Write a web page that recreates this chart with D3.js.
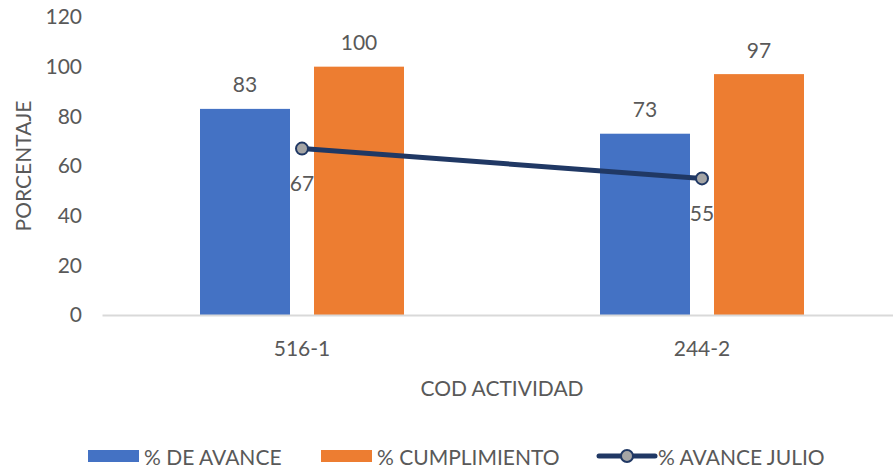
<!DOCTYPE html>
<html>
<head>
<meta charset="utf-8">
<script src="https://cdn.jsdelivr.net/npm/d3@7"></script>
<style>
  body { margin: 0; background: #fff; }
  svg text { font-family: Lato, "Liberation Sans", sans-serif; fill: #595959; }
</style>
</head>
<body>
<div id="chart"></div>
<script>
const WIDTH = 893;
const HEIGHT = 471;

// data
const categories = ["516-1", "244-2"];
const barSeries = ["% DE AVANCE", "% CUMPLIMIENTO"];
const avance = [83, 73];
const cumplimiento = [100, 97];
const avanceJulio = [67, 55];
const lineSeries = "% AVANCE JULIO";
const yTicks = [0, 20, 40, 60, 80, 100, 120];

const colors = { "% DE AVANCE": "#4472C4", "% CUMPLIMIENTO": "#ED7D31" };
const lineColor = "#203864";
const markerFill = "#A5A5A5";
const FS = 21;

const plot = { left: 102, right: 902, top: 17, bottom: 315 };

const svg = d3.select("#chart").append("svg").attr("width", WIDTH).attr("height", HEIGHT);

const x0 = d3.scaleBand().domain(categories).range([plot.left, plot.right]);
const x1 = d3.scaleBand().domain(barSeries).range([98, 302]).paddingInner(0.2105);
const y = d3.scaleLinear().domain([0, 120]).range([plot.bottom, plot.top]);

const barData = categories.map((c, i) => ({
    cat: c,
    values: [
        { key: barSeries[0], value: avance[i] },
        { key: barSeries[1], value: cumplimiento[i] }
    ]
}));

// y axis: labels only
const yAxis = svg.append("g")
    .attr("transform", "translate(" + (plot.left - 20) + ",0)")
    .call(d3.axisLeft(y).tickValues(yTicks).tickSize(0).tickPadding(0));
yAxis.select(".domain").remove();
yAxis.selectAll("text").attr("font-size", FS).style("font-family", null);

// bars
const groups = svg.append("g").selectAll("g")
    .data(barData)
    .join("g")
    .attr("transform", d => "translate(" + x0(d.cat) + ",0)");

groups.selectAll("rect")
    .data(d => d.values)
    .join("rect")
    .attr("x", d => x1(d.key))
    .attr("y", d => y(d.value))
    .attr("width", x1.bandwidth())
    .attr("height", d => y(0) - y(d.value))
    .attr("fill", d => colors[d.key]);

groups.selectAll("text.lbl")
    .data(d => d.values)
    .join("text")
    .attr("class", "lbl")
    .attr("x", d => x1(d.key) + x1.bandwidth() / 2)
    .attr("y", d => y(d.value) - 25)
    .attr("text-anchor", "middle")
    .attr("dominant-baseline", "central")
    .attr("font-size", FS)
    .text(d => d.value);

// x axis line
const xAxis = svg.append("g")
    .attr("transform", "translate(0," + plot.bottom + ")")
    .call(d3.axisBottom(x0).tickSize(0).tickPadding(0));
xAxis.select(".domain").attr("stroke", "#D9D9D9").attr("stroke-width", 2);
xAxis.selectAll("text")
    .attr("y", 32)
    .attr("dy", null)
    .attr("dominant-baseline", "central")
    .attr("font-size", FS)
    .style("font-family", null);

// line series
const pts = categories.map((c, i) => ({ x: x0(c) + x0.bandwidth() / 2, v: avanceJulio[i] }));
const line = d3.line().x(d => d.x).y(d => y(d.v));

svg.append("path")
    .datum(pts)
    .attr("d", line)
    .attr("fill", "none")
    .attr("stroke", lineColor)
    .attr("stroke-width", 5)
    .attr("stroke-linecap", "round");

svg.append("g").selectAll("circle")
    .data(pts)
    .join("circle")
    .attr("cx", d => d.x)
    .attr("cy", d => y(d.v))
    .attr("r", 6)
    .attr("fill", markerFill)
    .attr("stroke", lineColor)
    .attr("stroke-width", 2);

svg.append("g").selectAll("text")
    .data(pts)
    .join("text")
    .attr("x", d => d.x)
    .attr("y", d => y(d.v) + 34)
    .attr("text-anchor", "middle")
    .attr("dominant-baseline", "central")
    .attr("font-size", FS)
    .text(d => d.v);

// axis titles
svg.append("text")
    .attr("x", (plot.left + plot.right) / 2)
    .attr("y", 387)
    .attr("text-anchor", "middle")
    .attr("dominant-baseline", "central")
    .attr("font-size", FS)
    .text("COD ACTIVIDAD");

svg.append("text")
    .attr("transform", "translate(22," + (plot.top + plot.bottom) / 2 + ") rotate(-90)")
    .attr("text-anchor", "middle")
    .attr("dominant-baseline", "central")
    .attr("font-size", FS)
    .text("PORCENTAJE");

// legend
const legendY = 456;
const legend = svg.append("g");
const legendX = [88, 321];
barSeries.forEach((s, i) => {
    legend.append("rect")
        .attr("x", legendX[i]).attr("y", legendY - 6)
        .attr("width", 51).attr("height", 12)
        .attr("fill", colors[s]);
    legend.append("text")
        .attr("x", legendX[i] + 56).attr("y", legendY)
        .attr("dominant-baseline", "central")
        .attr("font-size", FS)
        .text(s);
});
legend.append("line")
    .attr("x1", 599).attr("x2", 655)
    .attr("y1", legendY).attr("y2", legendY)
    .attr("stroke", lineColor).attr("stroke-width", 5).attr("stroke-linecap", "round");
legend.append("circle")
    .attr("cx", 627).attr("cy", legendY).attr("r", 6)
    .attr("fill", markerFill).attr("stroke", lineColor).attr("stroke-width", 2);
legend.append("text")
    .attr("x", 658).attr("y", legendY)
    .attr("dominant-baseline", "central")
    .attr("font-size", FS)
    .text(lineSeries);
</script>
</body>
</html>
